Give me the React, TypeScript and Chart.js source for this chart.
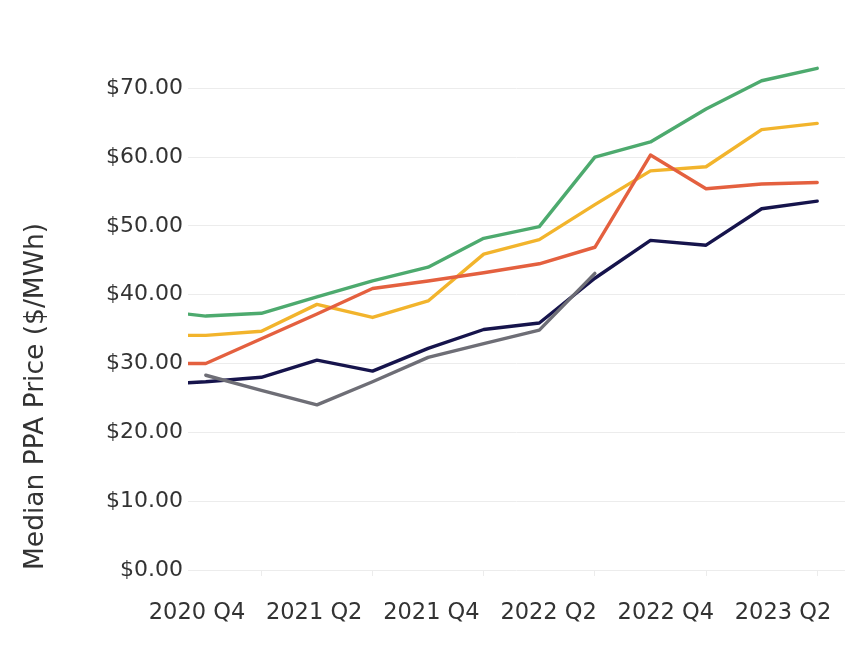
import React, { useEffect, useRef } from "react";
import { Chart, registerables } from "chart.js";

Chart.register(...registerables);

// Quarters (index = position on the x axis)
const quarters = [
  "2020 Q2", "2020 Q3", "2020 Q4",
  "2021 Q1", "2021 Q2", "2021 Q3", "2021 Q4",
  "2022 Q1", "2022 Q2", "2022 Q3", "2022 Q4",
  "2023 Q1", "2023 Q2",
];

// Labels shown under the axis
const tickLabels = ["2020 Q4", "2021 Q2", "2021 Q4", "2022 Q2", "2022 Q4", "2023 Q2"];

// Series values ($/MWh)
const greenSeries = [37.8, 36.9, 37.3, 39.7, 42.0, 44.0, 48.2, 49.9, 60.0, 62.2, 67.0, 71.1, 72.9];
const yellowSeries = [34.1, 34.1, 34.7, 38.6, 36.7, 39.1, 45.9, 48.0, 53.1, 58.0, 58.6, 64.0, 64.9];
const redSeries = [30.0, 30.0, 33.6, 37.2, 40.9, 42.0, 43.2, 44.5, 46.9, 60.3, 55.4, 56.1, 56.3];
const navySeries = [26.9, 27.35, 28.0, 30.5, 28.9, 32.2, 34.95, 35.9, 42.4, 47.9, 47.2, 52.5, 53.6];
const graySeries = [null, 28.3, 26.1, 24.0, 27.35, 30.9, 32.9, 34.85, 43.1, null, null, null, null];

const yTicks = [0, 10, 20, 30, 40, 50, 60, 70];

const FONT = "'DejaVu Sans', sans-serif";
const TEXT = "#333333";

function toPoints(arr: (number | null)[]) {
  return arr.map((v, i) => ({ x: i, y: v, q: quarters[i] }));
}

export default function App() {
  const ref = useRef<HTMLCanvasElement | null>(null);

  useEffect(() => {
    if (!ref.current) return;
    const mk = (label: string, data: (number | null)[], color: string) => ({
      label,
      data: toPoints(data),
      borderColor: color,
      backgroundColor: color,
      borderWidth: 3.4,
      pointRadius: 0,
      tension: 0,
      borderCapStyle: "round" as const,
      borderJoinStyle: "round" as const,
      spanGaps: false,
    });
    const chart = new Chart(ref.current, {
      type: "line",
      data: {
        datasets: [
          mk("Gray", graySeries, "#6e6e76"),
          mk("Red", redSeries, "#e4603f"),
          mk("Green", greenSeries, "#4daa6e"),
          mk("Yellow", yellowSeries, "#f2b42c"),
          mk("Navy", navySeries, "#16144c"),
        ],
      },
      options: {
        animation: false,
        responsive: false,
        layout: { padding: { top: 47, right: 0, bottom: 23, left: 0 } },
        plugins: { legend: { display: false }, tooltip: { enabled: false } },
        scales: {
          x: {
            type: "linear",
            min: 0.68,
            max: 12.5,
            weight: 0,
            afterBuildTicks: (s: any) => {
              s.ticks = [2, 4, 6, 8, 10, 12].map((v) => ({ value: v }));
            },
            afterFit: (s: any) => {
              s.height = 6;
              s.paddingLeft = 0;
              s.paddingRight = 0;
            },
            ticks: { display: false },
            grid: { drawOnChartArea: false, drawTicks: true, tickLength: 6, color: "#ececec" },
            border: { display: false },
          },
          xl: {
            type: "linear",
            position: "bottom",
            min: -0.0768,
            max: 5.529,
            weight: 1,
            afterBuildTicks: (s: any) => {
              s.ticks = tickLabels.map((_, i) => ({ value: i }));
            },
            afterFit: (s: any) => {
              s.height = 60;
              s.paddingLeft = 0;
              s.paddingRight = 0;
            },
            ticks: {
              padding: 16,
              color: TEXT,
              font: { family: FONT, size: 22.5 },
              maxRotation: 0,
              autoSkip: false,
              callback: (v: any) => tickLabels[Math.round(Number(v))] ?? "",
            },
            grid: { display: false },
            border: { display: false },
          },
          y: {
            min: 0,
            max: 76,
            afterBuildTicks: (s: any) => {
              s.ticks = yTicks.map((v) => ({ value: v }));
            },
            afterFit: (s: any) => {
              s.width = 188;
              s.paddingTop = 0;
              s.paddingBottom = 0;
            },
            ticks: {
              padding: 5,
              color: TEXT,
              font: { family: FONT, size: 22 },
              callback: (v: any) => "$" + Number(v).toFixed(2),
            },
            grid: { color: "#ececec", lineWidth: 1, drawTicks: false },
            border: { display: false },
            title: {
              display: true,
              text: "Median PPA Price ($/MWh)",
              align: "start",
              color: TEXT,
              font: { family: FONT, size: 26.5 },
              padding: { top: 20, bottom: 0 },
            },
          },
        },
      },
    });
    return () => chart.destroy();
  }, []);

  return (
    <div style={{ position: "absolute", left: 0, top: 0, width: 845, height: 659, background: "#fff" }}>
      <canvas ref={ref} width={845} height={659} style={{ display: "block" }} />
    </div>
  );
}
